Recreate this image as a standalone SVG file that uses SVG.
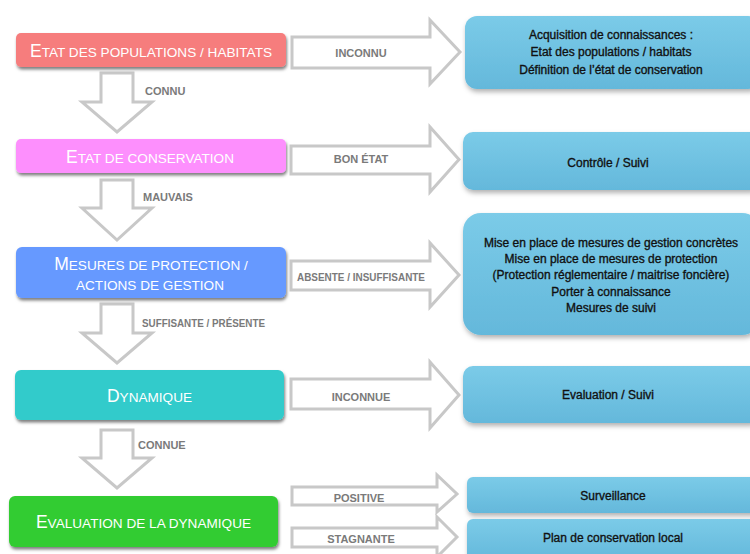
<svg xmlns="http://www.w3.org/2000/svg" width="750" height="554" viewBox="0 0 750 554">
<defs>
<filter id="sh" x="-5%" y="-20%" width="115%" height="160%">
<feDropShadow dx="1" dy="2.5" stdDeviation="1.5" flood-color="#000" flood-opacity="0.5"/>
</filter>
<filter id="sh2" x="-5%" y="-20%" width="115%" height="160%">
<feDropShadow dx="1" dy="3" stdDeviation="2.5" flood-color="#000" flood-opacity="0.3"/>
</filter>
<linearGradient id="bl" x1="0" y1="0" x2="0" y2="1">
<stop offset="0" stop-color="#7bcbe8"/>
<stop offset="1" stop-color="#64b8db"/>
</linearGradient>
<style>
.lt{font-family:"Liberation Sans",Arial,sans-serif;font-size:13.6px;fill:#fff;text-anchor:middle}
.big{font-size:17.5px}
.lab{font-family:"Liberation Sans",Arial,sans-serif;font-size:11px;font-weight:bold;fill:#7a7a7a}
.mid{text-anchor:middle}
.rt{font-family:"Liberation Sans",Arial,sans-serif;font-size:12px;fill:#111;stroke:#111;stroke-width:0.35;text-anchor:middle}
.arr{fill:#fff;stroke:#c8c8c8;stroke-width:3;stroke-linejoin:miter}
.rb{fill:url(#bl);filter:url(#sh2)}
</style>
</defs>
<rect width="750" height="554" fill="#fff"/>

<g id="connectors">
<polygon class="arr" points="101,73 133,73 133,102 152,102 117,132 82,102 101,102"/>
<polygon class="arr" points="101,180 133,180 133,208 152,208 117,240 82,208 101,208"/>
<polygon class="arr" points="101,304 133,304 133,333 152,333 117,363 82,333 101,333"/>
<polygon class="arr" points="101,430 133,430 133,458 152,458 117,488 82,458 101,458"/>
<polygon class="arr" points="292,37 430,37 430,20 460,52 430,84 430,68 292,68"/>
<polygon class="arr" points="291,146 430,146 430,127 459,159.5 430,192 430,174 291,174"/>
<polygon class="arr" points="291,261 430,261 430,243 459,275 430,307 430,290 291,290"/>
<polygon class="arr" points="291,379 430,379 430,362 459,395 430,428 430,409 291,409"/>
<polygon class="arr" points="292,487 437,487 437,475 457,494 437,512 437,505 292,505"/>
<polygon class="arr" points="292,528 437,528 437,517 457,537 437,557 437,547 292,547"/>
<text class="lab" x="145" y="95">CONNU</text>
<text class="lab" x="143" y="201">MAUVAIS</text>
<text class="lab" x="142" y="327" textLength="123" lengthAdjust="spacingAndGlyphs">SUFFISANTE / PRÉSENTE</text>
<text class="lab" x="138" y="449">CONNUE</text>
<text class="lab mid" x="361" y="57">INCONNU</text>
<text class="lab mid" x="361" y="163">BON ÉTAT</text>
<text class="lab" x="297" y="281" textLength="128" lengthAdjust="spacingAndGlyphs">ABSENTE / INSUFFISANTE</text>
<text class="lab mid" x="361" y="401">INCONNUE</text>
<text class="lab mid" x="359" y="502">POSITIVE</text>
<text class="lab mid" x="361" y="543">STAGNANTE</text>
</g>

<g id="n-etat-pop">
<rect x="16" y="33" width="270" height="34" rx="5" fill="#f67d7d" filter="url(#sh)"/>
<text class="lt" x="151" y="57"><tspan class="big">E</tspan>TAT DES POPULATIONS / HABITATS</text>
</g>
<g id="n-etat-cons">
<rect x="16" y="139" width="270" height="34" rx="5" fill="#fd8ffd" filter="url(#sh)"/>
<text class="lt" x="150" y="163"><tspan class="big">E</tspan>TAT DE CONSERVATION</text>
</g>
<g id="n-mesures">
<rect x="16" y="247" width="270" height="51" rx="6" fill="#6699ff" filter="url(#sh)"/>
<text class="lt" x="151" y="270"><tspan class="big">M</tspan>ESURES DE PROTECTION /</text>
<text class="lt" x="150" y="290">ACTIONS DE GESTION</text>
</g>
<g id="n-dynamique">
<rect x="15" y="370" width="269" height="50" rx="6" fill="#33cbcb" filter="url(#sh)"/>
<text class="lt" x="149.5" y="402"><tspan class="big">D</tspan>YNAMIQUE</text>
</g>
<g id="n-evaluation">
<rect x="9" y="496" width="269" height="51" rx="6" fill="#33cc33" filter="url(#sh)"/>
<text class="lt" x="143.5" y="528"><tspan class="big">E</tspan>VALUATION DE LA DYNAMIQUE</text>
</g>

<g id="r-acquisition">
<rect class="rb" x="465" y="16" width="295" height="73" rx="12"/>
<text class="rt" x="611" y="39">Acquisition de connaissances :</text>
<text class="rt" x="611" y="56">Etat des populations / habitats</text>
<text class="rt" x="611" y="74">Définition de l’état de conservation</text>
</g>
<g id="r-controle">
<rect class="rb" x="463" y="132" width="297" height="58" rx="10"/>
<text class="rt" x="608" y="167">Contrôle / Suivi</text>
</g>
<g id="r-mise">
<rect class="rb" x="463" y="213" width="297" height="122" rx="18"/>
<text class="rt" x="611" y="247">Mise en place de mesures de gestion concrètes</text>
<text class="rt" x="611" y="263">Mise en place de mesures de protection</text>
<text class="rt" x="611" y="279">(Protection réglementaire / maitrise foncière)</text>
<text class="rt" x="611" y="296">Porter à connaissance</text>
<text class="rt" x="611" y="312">Mesures de suivi</text>
</g>
<g id="r-evaluation">
<rect class="rb" x="463" y="366" width="297" height="57" rx="10"/>
<text class="rt" x="608" y="399">Evaluation / Suivi</text>
</g>
<g id="r-surveillance">
<rect class="rb" x="467" y="477" width="293" height="36" rx="6"/>
<text class="rt" x="613" y="500">Surveillance</text>
</g>
<g id="r-plan">
<rect class="rb" x="467" y="519" width="293" height="42" rx="6"/>
<text class="rt" x="613" y="542">Plan de conservation local</text>
</g>
</svg>
